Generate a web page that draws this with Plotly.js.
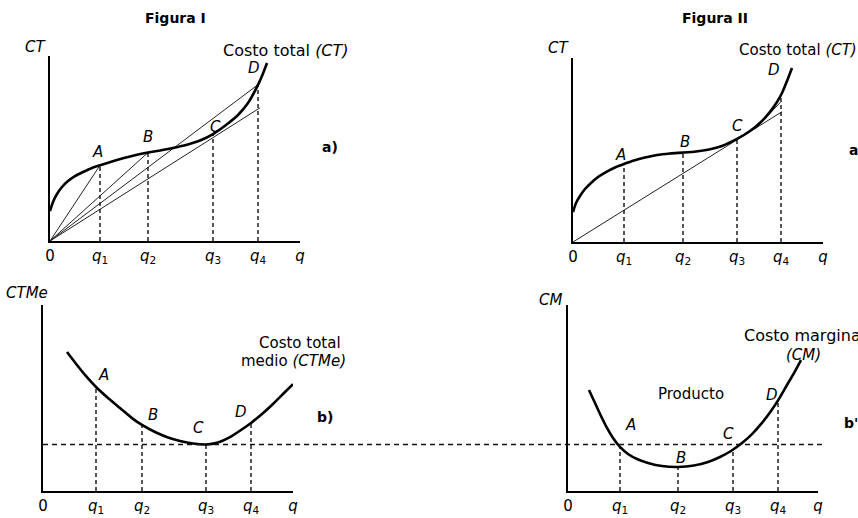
<!DOCTYPE html>
<html>
<head>
<meta charset="utf-8">
<script src="https://cdn.plot.ly/plotly-3.0.1.min.js"></script>
<style>html,body{margin:0;padding:0;background:#fff;}#chart{width:858px;height:518px;}</style>
</head>
<body>
<div id="chart"></div>
<script>
// ---------- DATA ----------
// Figura I a) : total cost curve and rays from the origin
const qTL = [2.0, 3.92, 6.52, 8.32];
const ctTLx = [0, 0.12, 0.28, 0.48, 0.72, 1.0, 1.32, 1.68, 2.04, 2.48, 2.96, 3.44, 3.92, 4.4, 4.92, 5.44, 6.0, 6.52, 7.04, 7.52, 7.92, 8.24, 8.48, 8.68];
const ctTLy = [1.62, 2.11, 2.54, 2.92, 3.24, 3.51, 3.73, 3.95, 4.11, 4.30, 4.49, 4.65, 4.78, 4.89, 5.03, 5.19, 5.43, 5.78, 6.27, 6.81, 7.46, 8.22, 8.92, 9.62];
const ctTLatQ = [4.09, 4.78, 5.78, 8.45];
const rayTLx = [2.0, 3.92, 8.32, 8.4];
const rayTLy = [4.09, 4.78, 8.45, 7.2];

// Figura II a') : total cost curve, tangent ray and tangent at D
const qTR = [2.04, 4.4, 6.56, 8.32];
const ctTRx = [0, 0.12, 0.28, 0.48, 0.72, 1.0, 1.32, 1.68, 2.04, 2.44, 2.88, 3.36, 3.88, 4.4, 4.92, 5.44, 5.96, 6.56, 7.08, 7.52, 7.88, 8.16, 8.36, 8.56, 8.76];
const ctTRy = [1.63, 2.12, 2.50, 2.88, 3.21, 3.53, 3.80, 4.05, 4.24, 4.43, 4.59, 4.73, 4.81, 4.86, 4.92, 5.03, 5.22, 5.60, 6.03, 6.52, 7.07, 7.61, 8.10, 8.75, 9.46];
const ctTRatQ = [4.24, 4.86, 5.60, 8.0];
const rayTRx = [0, 8.36];
const rayTRy = [0, 7.08];
const tanDx = [7.3, 8.3];
const tanDy = [6.15, 7.6];

// Figura I b) : average total cost
const qBL = [2.12, 3.96, 6.52, 8.32];
const ctmeX = [0.96, 1.28, 1.68, 2.12, 2.6, 3.08, 3.56, 3.96, 4.48, 5.0, 5.48, 6.0, 6.52, 7.0, 7.48, 7.92, 8.32, 8.76, 9.2, 9.64, 10.0];
const ctmeY = [7.47, 6.91, 6.24, 5.59, 5.0, 4.46, 3.92, 3.55, 3.17, 2.88, 2.69, 2.55, 2.50, 2.61, 2.90, 3.28, 3.66, 4.14, 4.68, 5.27, 5.75];
const ctmeAtQ = [5.59, 3.55, 2.50, 3.66];
const minCTMe = 2.50;

// Figura II b') : marginal cost
const qBR = [2.08, 4.4, 6.6, 8.4];
const cmX = [0.84, 1.08, 1.32, 1.56, 1.8, 2.08, 2.4, 2.76, 3.2, 3.76, 4.4, 5.04, 5.6, 6.08, 6.52, 6.96, 7.36, 7.76, 8.12, 8.44, 8.76, 9.04, 9.32];
const cmY = [5.43, 4.73, 4.03, 3.39, 2.85, 2.37, 1.99, 1.72, 1.51, 1.34, 1.29, 1.37, 1.56, 1.83, 2.15, 2.58, 3.06, 3.66, 4.30, 4.95, 5.70, 6.34, 7.04];
const cmAtQ = [2.37, 1.29, 2.2, 4.75];

const qTickText = ['0', '<i>q</i><sub>1</sub>', '<i>q</i><sub>2</sub>', '<i>q</i><sub>3</sub>', '<i>q</i><sub>4</sub>', '<i>q</i>'];
const pointNames = ['A', 'B', 'C', 'D'];

// ---------- helpers ----------
const W = 858, H = 518;
const FONT = 'DejaVu Sans, Liberation Sans, Arial, sans-serif';
function dashedVerticals(q, h, xa, ya) {
  const x = [], y = [];
  q.forEach((v, i) => { x.push(v, v, null); y.push(0, h[i], null); });
  return {x, y, xaxis: xa, yaxis: ya, mode: 'lines', hoverinfo: 'skip',
          line: {color: '#111', width: 1.4, dash: '4px,3px'}};
}
function curve(x, y, xa, ya) {
  return {x, y, xaxis: xa, yaxis: ya, mode: 'lines', hoverinfo: 'skip',
          line: {color: '#000', width: 2.6, shape: 'spline', smoothing: 0.6}};
}
function thin(x, y, xa, ya) {
  return {x, y, xaxis: xa, yaxis: ya, mode: 'lines', hoverinfo: 'skip',
          line: {color: '#222', width: 1}};
}

const traces = [];
rayTLx.forEach((ex, i) => traces.push(thin([0, ex], [0, rayTLy[i]], 'x', 'y')));
traces.push(dashedVerticals(qTL, ctTLatQ, 'x', 'y'));
traces.push(curve(ctTLx, ctTLy, 'x', 'y'));
traces.push(thin(rayTRx, rayTRy, 'x2', 'y2'));
traces.push(thin(tanDx, tanDy, 'x2', 'y2'));
traces.push(dashedVerticals(qTR, ctTRatQ, 'x2', 'y2'));
traces.push(curve(ctTRx, ctTRy, 'x2', 'y2'));
traces.push(dashedVerticals(qBL, ctmeAtQ, 'x3', 'y3'));
traces.push(curve(ctmeX, ctmeY, 'x3', 'y3'));
traces.push(dashedVerticals(qBR, cmAtQ, 'x4', 'y4'));
traces.push(curve(cmX, cmY, 'x4', 'y4'));

function xAxis(dom, q, anchor) {
  return {domain: [dom[0] / W, dom[1] / W], range: [0, 10], anchor,
          showline: true, linecolor: '#000', linewidth: 2, showgrid: false, zeroline: false,
          ticks: '', tickvals: [0].concat(q, [10]), ticktext: qTickText,
          tickfont: {family: FONT, size: 15, color: '#000'}, ticklabelstandoff: 0, fixedrange: true};
}
function yAxis(dom, anchor) {
  return {domain: [1 - dom[1] / H, 1 - dom[0] / H], range: [0, 10], anchor,
          showline: true, linecolor: '#000', linewidth: 2, showgrid: false, zeroline: false,
          ticks: '', showticklabels: false, fixedrange: true};
}

function ann(text, x, y, o) {
  o = o || {};
  return {text, x: x / W, y: 1 - y / H, xref: 'paper', yref: 'paper', showarrow: false,
    xanchor: o.xa || 'center', yanchor: 'middle',
    font: {family: FONT, size: o.size || 15, color: '#000'}};
}

const labelPos = {
  TL: [[97, 152], [148, 137], [215, 127], [254, 68]],
  TR: [[620, 155], [685, 142], [737, 126], [774, 70]],
  BL: [[103, 375], [153, 415], [198, 428], [241, 412]],
  BR: [[630, 425], [681, 458], [728, 434], [772, 395]]
};
const annotations = [
  ann('<b>Figura I</b>', 175, 18, {size: 14}),
  ann('<b>Figura II</b>', 715, 18, {size: 14}),
  ann('<i>CT</i>', 35, 47),
  ann('<i>CT</i>', 558, 48),
  ann('Costo total <i>(CT)</i>', 221, 50, {xa: 'left', size: 16}),
  ann('Costo total <i>(CT)</i>', 737, 50, {xa: 'left', size: 15}),
  ann('<b>a)</b>', 320, 147, {xa: 'left', size: 14}),
  ann("<b>a')</b>", 847, 150, {xa: 'left', size: 14}),
  ann('<i>CTMe</i>', 4, 293, {xa: 'left'}),
  ann('<i>CM</i>', 537, 300, {xa: 'left'}),
  ann('Costo total', 300, 343),
  ann('medio <i>(CTMe)</i>', 293, 361),
  ann('<b>b)</b>', 315, 417, {xa: 'left', size: 14}),
  ann("<b>b')</b>", 842, 423, {xa: 'left', size: 14}),
  ann('Costo marginal', 742, 335, {xa: 'left', size: 16}),
  ann('<i>(CM)</i>', 803, 355),
  ann('Producto', 691, 394)
];
Object.keys(labelPos).forEach(k => labelPos[k].forEach((p, i) => annotations.push(ann('<i>' + pointNames[i] + '</i>', p[0], p[1]))));

const layout = {
  width: W, height: H, margin: {l: 0, r: 0, t: 0, b: 0},
  paper_bgcolor: '#fff', plot_bgcolor: 'rgba(0,0,0,0)', showlegend: false,
  xaxis: xAxis([50, 300], qTL, 'y'), yaxis: yAxis([56, 241], 'x'),
  xaxis2: xAxis([573, 823], qTR, 'y2'), yaxis2: yAxis([58, 242], 'x2'),
  xaxis3: xAxis([43, 293], qBL, 'y3'), yaxis3: yAxis([305, 491], 'x3'),
  xaxis4: xAxis([568, 818], qBR, 'y4'), yaxis4: yAxis([305, 491], 'x4'),
  shapes: [{type: 'line', xref: 'paper', yref: 'y3', x0: 43 / W, x1: 825 / W, y0: minCTMe, y1: minCTMe,
            line: {color: '#111', width: 1.4, dash: '5px,4px'}}],
  annotations
};
Plotly.newPlot('chart', traces, layout, {staticPlot: true, displayModeBar: false});
</script>
</body>
</html>
